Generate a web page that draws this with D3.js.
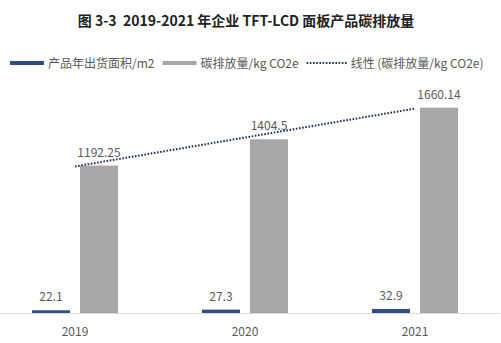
<!DOCTYPE html>
<html>
<head>
<meta charset="utf-8">
<script src="https://cdn.jsdelivr.net/npm/d3@7"></script>
<style>
  html, body { margin: 0; padding: 0; background: #fff; }
  svg { display: block; font-family: "Noto Sans CJK SC", "Noto Sans", sans-serif; }
</style>
</head>
<body>
<svg id="chart" width="501" height="343"></svg>
<script>
// Years on the category axis
const years = ["2019", "2020", "2021"];
// Annual shipped panel area, m2
const areaValues = [22.1, 27.3, 32.9];
const areaLabels = ["22.1", "27.3", "32.9"];
// Carbon emissions, kg CO2e
const carbonValues = [1192.25, 1404.5, 1660.14];
const carbonLabels = ["1192.25", "1404.5", "1660.14"];
// Legend entries
const legendNames = ["产品年出货面积/m2", "碳排放量/kg CO2e", "线性 (碳排放量/kg CO2e)"];
const titleText = "图 3-3  2019-2021 年企业 TFT-LCD 面板产品碳排放量";

const W = 501, H = 343;
const colors = { area: "#2f4e88", carbon: "#a9a6a6", trend: "#1f2f52", text: "#595959", axis: "#d9d9d9" };

const svg = d3.select("#chart");

// Title
svg.append("text")
  .attr("x", 246).attr("y", 26)
  .attr("text-anchor", "middle")
  .attr("font-size", 14).attr("font-weight", "bold")
  .attr("fill", "#222")
  .style("white-space", "pre")
  .text(titleText);

// Scales
const x0 = d3.scaleBand().domain(years).range([-10, 500]).paddingInner(0).paddingOuter(0);
const x1 = d3.scaleBand().domain(["area", "carbon"]).range([-43, 43]).paddingInner(10 / 48).paddingOuter(0);
const y = d3.scaleLinear().domain([0, 1800]).range([313, 90.4]);

const rows = years.map((yr, i) => ({
  year: yr,
  area: areaValues[i], areaLabel: areaLabels[i],
  carbon: carbonValues[i], carbonLabel: carbonLabels[i]
}));

const cx = d => x0(d.year) + x0.bandwidth() / 2;

// Category axis
const xAxis = svg.append("g")
  .attr("transform", `translate(0,${y(0)})`)
  .call(d3.axisBottom(x0).tickSize(0).tickPadding(14));
xAxis.select(".domain").attr("stroke", colors.axis).attr("d", `M0,0.5H500`);
xAxis.selectAll("text").attr("font-size", 12).attr("fill", colors.text)
  .attr("font-family", "'Noto Sans CJK SC', sans-serif");

// Bars
const groups = svg.append("g").selectAll("g").data(rows).join("g")
  .attr("transform", d => `translate(${cx(d)},0)`);

groups.append("rect")
  .attr("x", x1("area")).attr("width", x1.bandwidth())
  .attr("y", d => y(d.area)).attr("height", d => y(0) - y(d.area))
  .attr("fill", colors.area);

groups.append("rect")
  .attr("x", x1("carbon")).attr("width", x1.bandwidth())
  .attr("y", d => y(d.carbon)).attr("height", d => y(0) - y(d.carbon))
  .attr("fill", colors.carbon);

// Value labels
groups.append("text")
  .attr("x", x1("area") + x1.bandwidth() / 2)
  .attr("y", d => y(d.area) - 9)
  .attr("text-anchor", "middle").attr("font-size", 12).attr("fill", colors.text)
  .text(d => d.areaLabel);

groups.append("text")
  .attr("x", x1("carbon") + x1.bandwidth() / 2)
  .attr("y", d => y(d.carbon) - 9)
  .attr("text-anchor", "middle").attr("font-size", 12).attr("fill", colors.text)
  .text(d => d.carbonLabel);

// Linear trendline (least squares) of the emissions series
const n = carbonValues.length;
const xs = d3.range(n);
const mx = d3.mean(xs), my = d3.mean(carbonValues);
const slope = d3.sum(xs, (v, i) => (v - mx) * (carbonValues[i] - my)) / d3.sum(xs, v => (v - mx) ** 2);
const intercept = my - slope * mx;
const trend = rows.map((d, i) => ({ x: cx(d), v: intercept + slope * i }));

svg.append("path")
  .datum(trend)
  .attr("fill", "none")
  .attr("stroke", colors.trend)
  .attr("stroke-width", 2)
  .attr("stroke-dasharray", "1.6,1.6")
  .attr("d", d3.line().x(d => d.x).y(d => y(d.v)));

// Legend
const legend = svg.append("g").attr("transform", "translate(0,63)");
const sw = 34;
let lx = 10;
legendNames.forEach((name, i) => {
  const g = legend.append("g").attr("transform", `translate(${lx},0)`);
  if (i < 2) {
    g.append("rect").attr("x", 0).attr("y", -2).attr("width", sw).attr("height", 4)
      .attr("fill", i === 0 ? colors.area : colors.carbon);
  } else {
    g.append("line").attr("x1", 0).attr("x2", sw + 6).attr("y1", 0).attr("y2", 0)
      .attr("stroke", colors.trend).attr("stroke-width", 2).attr("stroke-dasharray", "1.6,1.6");
  }
  const t = g.append("text")
    .attr("x", (i < 2 ? sw : sw + 6) + 4).attr("y", 4.5)
    .attr("font-size", 12).attr("fill", colors.text)
    .text(name);
  lx += (i < 2 ? sw : sw + 6) + 4 + t.node().getComputedTextLength() + 8;
});
</script>
</body>
</html>
